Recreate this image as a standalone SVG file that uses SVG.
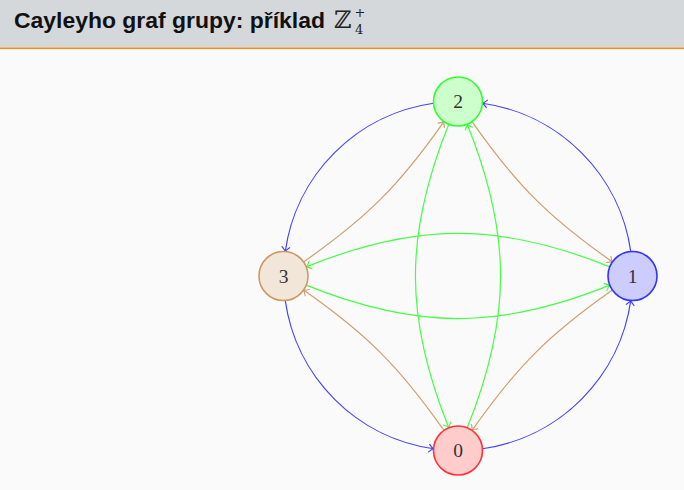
<svg xmlns="http://www.w3.org/2000/svg" width="684" height="490" viewBox="0 0 684 490">
<style>
.title{font-family:"Liberation Sans","DejaVu Sans",sans-serif;font-weight:bold;font-size:22px;fill:#111}
.math{font-family:"DejaVu Serif","Liberation Serif",serif;fill:#222}
.lbl{font-family:"Liberation Serif","DejaVu Serif",serif;font-size:19.5px;fill:#333;text-anchor:middle}
.node{stroke-width:1.6}
.e{fill:none;stroke-width:1.2}
.blue{stroke:#4444ff}
.green{stroke:#44ff44}
.brown{stroke:#cf9f70}
</style>
<defs>
<marker id="aB" markerUnits="userSpaceOnUse" orient="auto" refX="0" refY="0" markerWidth="10" markerHeight="10" viewBox="-6 -5 8 10" overflow="visible"><path d="M-4.5,-3.8 Q-1.6,-0.6 0,0 Q-1.6,0.6 -4.5,3.8" fill="none" stroke="#4444ff" stroke-width="1.2" stroke-linecap="round"/></marker>
<marker id="aG" markerUnits="userSpaceOnUse" orient="auto" refX="0" refY="0" markerWidth="10" markerHeight="10" viewBox="-6 -5 8 10" overflow="visible"><path d="M-4.5,-3.8 Q-1.6,-0.6 0,0 Q-1.6,0.6 -4.5,3.8" fill="none" stroke="#44ff44" stroke-width="1.2" stroke-linecap="round"/></marker>
<marker id="aR" markerUnits="userSpaceOnUse" orient="auto" refX="0" refY="0" markerWidth="10" markerHeight="10" viewBox="-6 -5 8 10" overflow="visible"><path d="M-4.5,-3.8 Q-1.6,-0.6 0,0 Q-1.6,0.6 -4.5,3.8" fill="none" stroke="#cf9f70" stroke-width="1.2" stroke-linecap="round"/></marker>
</defs>
<rect x="0" y="0" width="684" height="490" fill="#fafafa"/>
<g id="header">
<rect x="0" y="0" width="684" height="47.5" fill="#d5d8da"/>
<rect x="0" y="47.5" width="684" height="1.6" fill="#f28a1c"/>
<text class="title" x="14" y="27.5" textLength="311" lengthAdjust="spacingAndGlyphs">Cayleyho graf grupy: příklad</text>
<text class="math" x="334" y="28" font-size="24">ℤ</text>
<text class="math" x="354.5" y="16.5" font-size="13">+</text>
<text class="math" x="355" y="33.5" font-size="13">4</text>
</g>
<g id="connectors">
<path class="e blue" marker-end="url(#aB)" d="M482.44,448.78 A174.5,174.5 0 0 0 630.78,300.44"/>
<path class="e blue" marker-end="url(#aB)" d="M630.78,251.56 A174.5,174.5 0 0 0 482.44,103.22"/>
<path class="e blue" marker-end="url(#aB)" d="M433.56,103.22 A174.5,174.5 0 0 0 285.22,251.56"/>
<path class="e blue" marker-end="url(#aB)" d="M285.22,300.44 A174.5,174.5 0 0 0 433.56,448.78"/>
<path class="e brown" marker-end="url(#aR)" d="M303.57,261.95 C367.22,217.38 399.38,185.22 443.95,121.57"/>
<path class="e brown" marker-end="url(#aR)" d="M472.05,121.57 C516.62,185.22 548.78,217.38 612.43,261.95"/>
<path class="e brown" marker-end="url(#aR)" d="M612.43,290.05 C548.78,334.62 516.62,366.78 472.05,430.43"/>
<path class="e brown" marker-end="url(#aR)" d="M443.95,430.43 C399.38,366.78 367.22,334.62 303.57,290.05"/>
<path class="e green" marker-end="url(#aG)" d="M609.78,266.82 C499.59,222.30 416.41,222.30 306.22,266.82"/>
<path class="e green" marker-end="url(#aG)" d="M306.22,285.18 C416.41,329.70 499.59,329.70 609.78,285.18"/>
<path class="e green" marker-end="url(#aG)" d="M467.18,427.78 C511.70,317.59 511.70,234.41 467.18,124.22"/>
<path class="e green" marker-end="url(#aG)" d="M448.82,124.22 C404.30,234.41 404.30,317.59 448.82,427.78"/>
</g>
<g id="node0">
<circle class="node" cx="458" cy="450.5" r="24.5" fill="#ffcccc" stroke="#ff3333"/>
<text class="lbl" x="458" y="457">0</text>
</g>
<g id="node1">
<circle class="node" cx="632.5" cy="276" r="24.5" fill="#ccccff" stroke="#3333ff"/>
<text class="lbl" x="632.5" y="282.5">1</text>
</g>
<g id="node2">
<circle class="node" cx="458" cy="101.5" r="24.5" fill="#ccffcc" stroke="#33ff33"/>
<text class="lbl" x="458" y="108">2</text>
</g>
<g id="node3">
<circle class="node" cx="283.5" cy="276" r="24.5" fill="#f2e6d9" stroke="#cc9966"/>
<text class="lbl" x="283.5" y="282.5">3</text>
</g>
</svg>
